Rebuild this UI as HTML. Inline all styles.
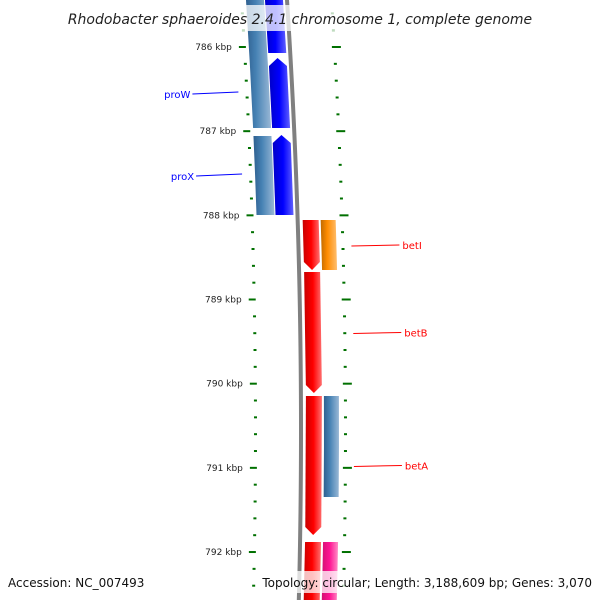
<!DOCTYPE html>
<html><head><meta charset="utf-8"><style>
body{margin:0;background:#fff}
svg{display:block}
text{font-family:"DejaVu Sans","Liberation Sans",sans-serif}
</style></head><body>
<svg id="map" width="600" height="600" viewBox="0 0 600 600" xmlns="http://www.w3.org/2000/svg">
<defs>
<linearGradient id="gBlue" x1="0" x2="1" y1="0" y2="0"><stop offset="0" stop-color="#0000c8"/><stop offset="0.5" stop-color="#0000ff"/><stop offset="1" stop-color="#6060ff"/></linearGradient>
<linearGradient id="gSteel" x1="0" x2="1" y1="0" y2="0"><stop offset="0" stop-color="#2f5f8f"/><stop offset="0.4" stop-color="#4682b4"/><stop offset="1" stop-color="#9ab8d6"/></linearGradient>
<linearGradient id="gRed" x1="0" x2="1" y1="0" y2="0"><stop offset="0" stop-color="#c80000"/><stop offset="0.5" stop-color="#ff0000"/><stop offset="1" stop-color="#ff7070"/></linearGradient>
<linearGradient id="gOrange" x1="0" x2="1" y1="0" y2="0"><stop offset="0" stop-color="#c06a00"/><stop offset="0.4" stop-color="#ff8c00"/><stop offset="1" stop-color="#ffbf70"/></linearGradient>
<linearGradient id="gPink" x1="0" x2="1" y1="0" y2="0"><stop offset="0" stop-color="#d0106f"/><stop offset="0.5" stop-color="#ff1493"/><stop offset="1" stop-color="#ff8cc6"/></linearGradient>
<linearGradient id="gGray" x1="0" x2="1" y1="0" y2="0"><stop offset="0" stop-color="#666"/><stop offset="0.5" stop-color="#999"/><stop offset="1" stop-color="#555"/></linearGradient>
</defs>
<g id="layer"></g>
<rect x="0" y="5" width="600" height="26" fill="#fff" fill-opacity="0.75"/>
<text x="300" y="24" text-anchor="middle" font-size="14" font-style="italic" fill="#222">Rhodobacter sphaeroides 2.4.1 chromosome 1, complete genome</text>
<rect x="256" y="571" width="340" height="22" fill="#fff" fill-opacity="0.75"/>
<text x="8" y="587" font-size="12" fill="#111">Accession: NC_007493</text>
<text x="592" y="587" text-anchor="end" font-size="12" fill="#111">Topology: circular; Length: 3,188,609 bp; Genes: 3,070</text>
</svg>
<script>
const tickKbp = [786,787,788,789,790,791,792];
const minorStepBp = 200;
const featStart = [785400,786131,787045,785400,787057,788055,788673,790146,791881,788055,790146,791881];
const featEnd   = [786071,786962,787996,786962,787996,788649,790111,791798,792800,788649,791346,792800];
const featStrand= [-1,-1,-1,0,0,1,1,1,1,2,2,2];
const featColor = ['gBlue','gBlue','gBlue','gSteel','gSteel','gRed','gRed','gRed','gRed','gOrange','gSteel','gPink'];
const featArrow = [0,1,1,0,0,1,1,1,0,0,0,0];
const labelNames = ['proW','proX','betI','betB','betA'];
const labelFeat  = [1,2,5,6,7];

const NS='http://www.w3.org/2000/svg';
const layer=document.getElementById('layer');
function yOf(bp){return 47+(bp-786000)*0.08417;}
function bx(y){return 301-(y-430)*(y-430)/13207;}
function mk(tag,attrs){const e=document.createElementNS(NS,tag);for(const k in attrs)e.setAttribute(k,attrs[k]);layer.appendChild(e);return e;}
const trackOff={'-1':[-22,-4],'0':[-41,-23],'1':[5,21],'2':[23,38]};

// backbone
let pts=[];for(let y=-5;y<=605;y+=10)pts.push(bx(y)+','+y);
const bb=mk('polyline',{points:pts.join(' '),fill:'none',stroke:'#808080','stroke-width':4});



// ticks
for(let bp=785400;bp<=792800;bp+=minorStepBp){
  const y=yOf(bp);const b=bx(y);const major=(bp%1000===0);
  const L=mk('line',{x1:b-(major?51:47),x2:b-44,y1:y,y2:y,stroke:'#007000','stroke-width':2});
  
  
  const R=mk('line',{x1:b+(major?42:43),x2:b+(major?51:46),y1:y,y2:y,stroke:'#007000','stroke-width':2});
  
  
}
tickKbp.forEach(k=>{
  const y=yOf(k*1000);const b=bx(y);
  const t=mk('text',{x:b-58,y:y+3,'text-anchor':'end','font-size':9,fill:'#222'});
  t.textContent=k+' kbp';
  
  
});

// features
for(let i=0;i<featStart.length;i++){
  const y1=yOf(featStart[i]),y2=yOf(featEnd[i]);const o=trackOff[featStrand[i]];
  const hl=featArrow[i]?8:0;const p=[];
  const yc=(y1+y2)/2;
  if(featStrand[i]===-1){ // arrow up at y1
    p.push([bx(y1)+(o[0]+o[1])/2,y1]);
    p.push([bx(y1+hl)+o[1],y1+hl]);p.push([bx(y2)+o[1],y2]);p.push([bx(y2)+o[0],y2]);p.push([bx(y1+hl)+o[0],y1+hl]);
  } else if(featStrand[i]===1){ // arrow down at y2
    p.push([bx(y1)+o[0],y1]);p.push([bx(y1)+o[1],y1]);p.push([bx(y2-hl)+o[1],y2-hl]);
    p.push([bx(y2)+(o[0]+o[1])/2,y2]);p.push([bx(y2-hl)+o[0],y2-hl]);
  } else {
    p.push([bx(y1)+o[0],y1]);p.push([bx(y1)+o[1],y1]);p.push([bx(yc)+o[1],yc]);p.push([bx(y2)+o[1],y2]);p.push([bx(y2)+o[0],y2]);p.push([bx(yc)+o[0],yc]);
  }
  const g=mk('polygon',{points:p.map(q=>q.join(',')).join(' '),fill:'url(#'+featColor[i]+')'});
  
  
}

// labels
labelNames.forEach((n,j)=>{
  const i=labelFeat[j];const y=(yOf(featStart[i])+yOf(featEnd[i]))/2;const b=bx(y);
  const left=featStrand[i]<0;const col=left?'#0000ff':'#ff0000';
  let line,txt;
  if(left){
    line=mk('line',{x1:b-54,y1:y-1,x2:b-100,y2:y+1,stroke:col,'stroke-width':1});
    txt=mk('text',{x:b-102,y:y+5,'text-anchor':'end','font-size':10,fill:col});
  } else {
    line=mk('line',{x1:b+53,y1:y+1,x2:b+101,y2:y,stroke:col,'stroke-width':1});
    txt=mk('text',{x:b+104,y:y+4,'font-size':10,fill:col});
  }
  txt.textContent=n;
  
  
  
  
});
</script>
</body></html>
